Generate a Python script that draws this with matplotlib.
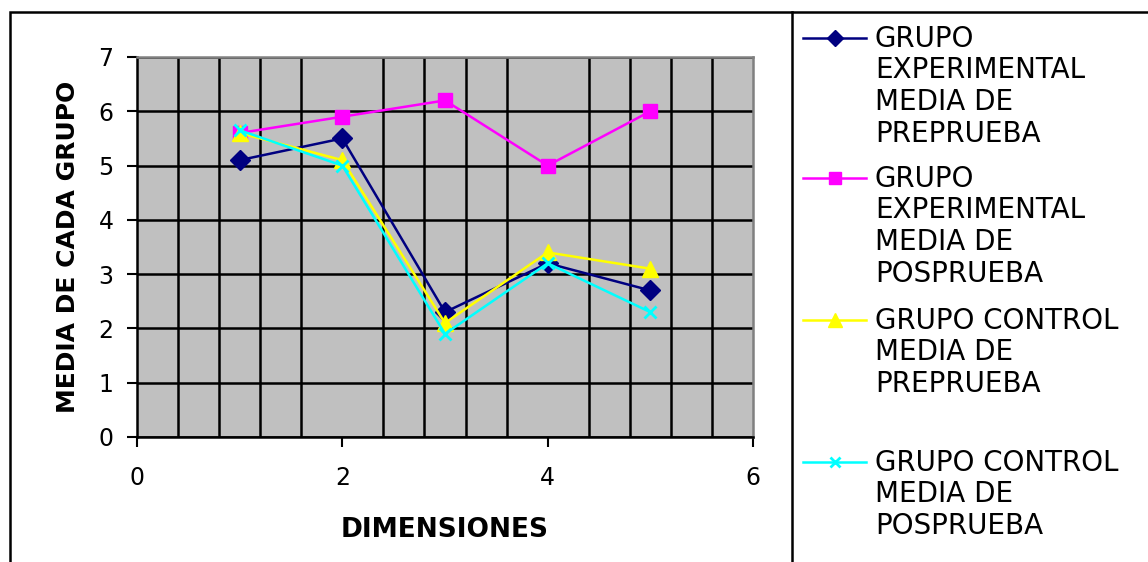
import matplotlib
matplotlib.use("Agg")
import matplotlib.pyplot as plt
from matplotlib.lines import Line2D
from matplotlib.patches import Rectangle
from matplotlib.ticker import MultipleLocator

plt.rcParams['font.family'] = ['DejaVu Sans']

dimensiones = [1, 2, 3, 4, 5]
exp_pre = [5.1, 5.5, 2.3, 3.2, 2.7]
exp_pos = [5.6, 5.9, 6.2, 5.0, 6.0]
ctrl_pre = [5.6, 5.1, 2.1, 3.4, 3.1]
ctrl_pos = [5.65, 5.0, 1.9, 3.2, 2.3]

labels = ["GRUPO\nEXPERIMENTAL\nMEDIA DE\nPREPRUEBA",
          "GRUPO\nEXPERIMENTAL\nMEDIA DE\nPOSPRUEBA",
          "GRUPO CONTROL\nMEDIA DE\nPREPRUEBA",
          "GRUPO CONTROL\nMEDIA DE\nPOSPRUEBA"]
colors = ['#000080', '#FF00FF', '#FFFF00', '#00FFFF']
markers = ['D', 's', '^', 'x']
msizes = [10.5, 10, 12, 9]

W, H = 1148, 562
fig = plt.figure(figsize=(W / 100, H / 100), dpi=100)
ax = fig.add_axes([137 / W, 125 / H, 616 / W, 380 / H])
ax.set_facecolor('#C0C0C0')

series = [exp_pre, exp_pos, ctrl_pre, ctrl_pos]
for vals, col, mk, ms in zip(series, colors, markers, msizes):
    ax.plot(dimensiones, vals, color=col, marker=mk, markersize=ms,
            linewidth=1.8, markeredgewidth=2 if mk == 'x' else 1,
            markeredgecolor=col, zorder=3)

ax.set_xlim(0, 6)
ax.set_ylim(0, 7)
ax.xaxis.set_major_locator(MultipleLocator(2))
ax.xaxis.set_minor_locator(MultipleLocator(0.4))
ax.yaxis.set_major_locator(MultipleLocator(1))
ax.grid(True, which='major', axis='y', color='black', linewidth=1.8)
ax.grid(True, which='minor', axis='x', color='black', linewidth=1.8)
ax.set_axisbelow(True)
ax.tick_params(axis='both', which='major', direction='out', length=7,
               width=1.5, labelsize=17, color='black')
ax.tick_params(axis='x', which='minor', length=0)
ax.tick_params(axis='x', pad=14)
ax.tick_params(axis='y', pad=10)
for s in ['top', 'right']:
    ax.spines[s].set_color('#808080')
    ax.spines[s].set_linewidth(1.8)
for s in ['left', 'bottom']:
    ax.spines[s].set_color('black')
    ax.spines[s].set_linewidth(1.8)

ax.set_xlabel('DIMENSIONES', fontsize=19, fontweight='bold', labelpad=19)
ax.set_ylabel('MEDIA DE CADA GRUPO', fontsize=18, fontweight='bold', labelpad=13)

# outer chart frame and legend frame
fig.patches.append(Rectangle((10 / W, -0.05), 1.0, (H - 12) / H + 0.05,
                             transform=fig.transFigure, fill=False,
                             edgecolor='black', linewidth=1.8))
fig.lines.append(Line2D([792 / W, 792 / W], [-0.05, (H - 12) / H],
                        transform=fig.transFigure, color='black', linewidth=1.8))

# legend drawn manually (Excel-style layout)
baselines = [47, 187, 329, 471]
pitch = 31.5
for lab, col, mk, ms, yb in zip(labels, colors, markers, msizes, baselines):
    fy = (H - yb + 9) / H
    fig.lines.append(Line2D([803 / W, 866 / W], [fy, fy], transform=fig.transFigure,
                            color=col, linewidth=1.8))
    fig.lines.append(Line2D([835 / W], [fy], transform=fig.transFigure,
                            color=col, marker=mk, markersize=ms * 0.8,
                            markeredgewidth=2 if mk == 'x' else 1, linestyle='none'))
    for i, line in enumerate(lab.split('\n')):
        fig.text(875 / W, (H - yb - i * pitch) / H, line, fontsize=20,
                 va='baseline', ha='left')

fig.savefig('out.png', dpi=100)
